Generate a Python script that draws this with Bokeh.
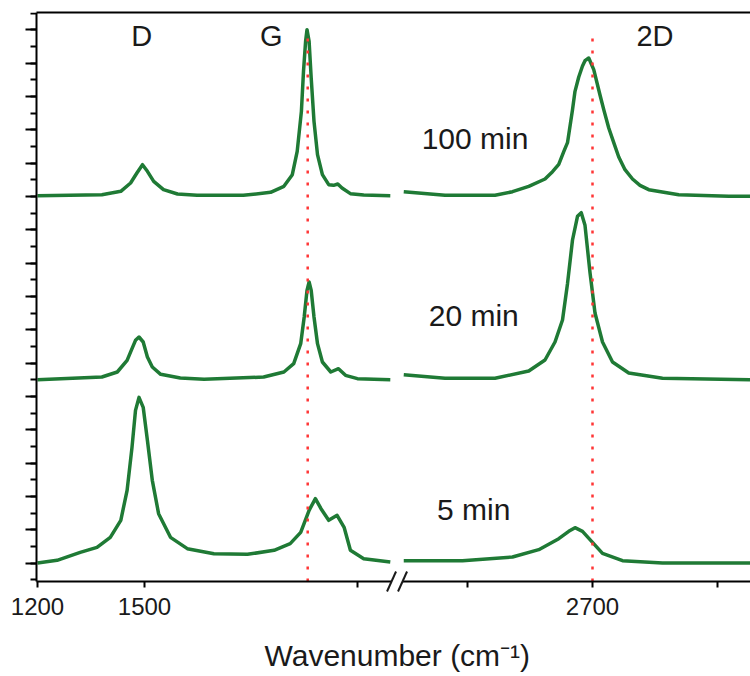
import numpy as np
from bokeh.plotting import figure
from bokeh.models import (ColumnDataSource, LinearAxis, FixedTicker, SingleIntervalTicker, Range1d,
                          CustomJSTickFormatter, Title)
from bokeh.core.properties import value
from bokeh.embed import file_html
from bokeh.resources import INLINE

# ---------------- data ----------------
# baselines (stack offsets) of the three spectra
offsets = {"5 min": 0.0, "20 min": 5.5, "100 min": 11.0}

# 100 min, D/G region
w_100_left = [1200, 1292, 1319, 1333, 1342, 1350, 1357, 1366, 1380, 1400, 1428, 1494, 1533, 1552, 1564,
              1571, 1577, 1580, 1583, 1585, 1588, 1591, 1595, 1600, 1607, 1616, 1623, 1629, 1635, 1647,
              1666, 1704]
i_100_left = [0.02, 0.05, 0.15, 0.40, 0.70, 0.95, 0.75, 0.45, 0.20, 0.07, 0.03, 0.03, 0.12, 0.30, 0.65,
              1.35, 2.55, 3.75, 4.65, 5.00, 4.65, 3.55, 2.25, 1.25, 0.65, 0.35, 0.33, 0.37, 0.25, 0.08,
              0.04, 0.02]
# 100 min, 2D region
w_100_right = [2549, 2582, 2622, 2636, 2649, 2662, 2668, 2673, 2677, 2680, 2684, 2686, 2689, 2692, 2694,
               2697, 2701, 2706, 2709, 2713, 2717, 2721, 2726, 2732, 2738, 2745, 2769, 2809, 2826]
i_100_right = [0.14, 0.03, 0.03, 0.14, 0.30, 0.52, 0.74, 0.96, 1.34, 1.61, 2.60, 3.15, 3.58, 3.91, 4.07,
               4.15, 3.80, 3.04, 2.60, 2.05, 1.61, 1.18, 0.80, 0.52, 0.33, 0.20, 0.05, 0.00, 0.00]

# 20 min
w_20_left = [1200, 1292, 1314, 1328, 1335, 1340, 1345, 1351, 1357, 1364, 1376, 1404, 1438, 1523, 1552,
             1566, 1576, 1581, 1585, 1588, 1591, 1595, 1600, 1607, 1619, 1630, 1640, 1657, 1704]
i_20_left = [0.00, 0.08, 0.23, 0.58, 0.93, 1.18, 1.28, 1.13, 0.68, 0.38, 0.16, 0.05, 0.01, 0.08, 0.23,
             0.48, 1.08, 1.88, 2.68, 2.93, 2.68, 1.88, 1.08, 0.53, 0.23, 0.33, 0.13, 0.03, 0.00]
w_20_right = [2549, 2582, 2622, 2649, 2662, 2670, 2676, 2680, 2684, 2688, 2691, 2694, 2698, 2702, 2708,
              2716, 2729, 2756, 2826]
i_20_right = [0.15, 0.04, 0.04, 0.26, 0.59, 1.13, 1.79, 2.88, 4.19, 4.90, 5.01, 4.63, 3.21, 2.00, 1.13,
              0.53, 0.20, 0.04, 0.00]

# 5 min
w_5_left = [1200, 1228, 1261, 1285, 1304, 1319, 1328, 1335, 1340, 1345, 1351, 1357, 1364, 1373, 1390,
            1414, 1452, 1500, 1538, 1561, 1576, 1588, 1597, 1605, 1616, 1628, 1638, 1647, 1666, 1704]
i_5_left = [0.00, 0.08, 0.32, 0.47, 0.77, 1.28, 2.18, 3.47, 4.58, 4.97, 4.67, 3.68, 2.48, 1.48, 0.77,
            0.43, 0.28, 0.26, 0.38, 0.58, 0.92, 1.58, 1.93, 1.63, 1.28, 1.43, 1.07, 0.38, 0.13, 0.03]
w_5_right = [2549, 2596, 2636, 2657, 2673, 2681, 2686, 2692, 2700, 2708, 2724, 2756, 2826]
i_5_right = [0.07, 0.07, 0.18, 0.40, 0.73, 0.95, 1.06, 0.95, 0.62, 0.29, 0.07, 0.00, 0.00]

# reference lines (G and 2D positions)
ref_lines_w = [1586, 2700]
ref_lines_top = [15.9, 16.0]

# axis ticks as printed on the original
tick_w = [1200, 1353, 1657, 2600, 2700, 2800]
tick_labels = ["1200", "1500", "", "", "2700", ""]

# peak names and time labels
peak_names = ["D", "G", "2D"]
peak_w = [1349, 1534, 2750]
peak_y = [15.8, 15.8, 15.8]
time_names = ["100 min", "20 min", "5 min"]
time_w = [2606, 2605, 2605]
time_y = [12.75, 7.43, 1.60]

# ---------------- broken x-axis mapping ----------------
def to_x(w):
    w = np.asarray(w, dtype=float)
    return np.where(w < 2000, (w - 1200.0) * 0.70, 555.0 + (w - 2700.0) * 1.25)

GREEN = "#1f7a35"
FONT = "Liberation Sans"
INK = "#1a1a1a"
X_AXIS_LEFT = -1.0   # where the (unlabelled) intensity axis sits
X_FRAME_LEFT = -29.0 # frame reaches further left so the first tick label is not clipped
X_RIGHT = 713.0
Y_AXIS = -0.555      # where the wavenumber axis sits
Y_BOTTOM = -2.085    # bottom of the frame (room for tick labels and the break mark)
Y_TOP = 16.515

p = figure(width=750, height=676, output_backend="svg", toolbar_location=None,
           x_range=Range1d(X_FRAME_LEFT, X_RIGHT), y_range=Range1d(Y_BOTTOM, Y_TOP),
           min_border_left=8, min_border_right=0, min_border_top=12, min_border_bottom=44)
p.outline_line_color = None
p.grid.visible = False
p.background_fill_color = "white"

# x axis (placed inside the frame so the break mark and labels are not clipped)
xa = p.xaxis[0]
tick_x = [int(round(float(v))) for v in to_x(tick_w)]
xa.ticker = FixedTicker(ticks=tick_x, minor_ticks=[])
xa.major_label_overrides = {tx: lab for tx, lab in zip(tick_x, tick_labels)}
xa.fixed_location = Y_AXIS
xa.bounds = (X_AXIS_LEFT, X_RIGHT)
xa.axis_line_width = 2
xa.major_tick_line_width = 2
xa.major_tick_out = 6
xa.major_tick_in = 0
xa.minor_tick_line_color = None
xa.major_label_text_font = FONT
xa.major_label_text_font_size = "24px"
xa.major_label_text_color = INK
xa.major_label_standoff = 10

# y axis (no labels)
ya = p.yaxis[0]
ya.ticker = SingleIntervalTicker(interval=1, num_minor_ticks=2)
ya.formatter = CustomJSTickFormatter(code="return ''")
ya.fixed_location = X_AXIS_LEFT
ya.bounds = (Y_AXIS, Y_TOP)
ya.axis_line_width = 2
ya.major_tick_line_width = 2
ya.minor_tick_line_width = 2
ya.major_tick_out = 11
ya.major_tick_in = 0
ya.minor_tick_out = 6
ya.minor_tick_in = 0
ya.major_label_standoff = 0

# top frame line
top = LinearAxis(ticker=FixedTicker(ticks=[]), axis_line_width=2, bounds=(X_AXIS_LEFT, X_RIGHT),
                 major_tick_line_color=None, minor_tick_line_color=None, major_label_standoff=0)
p.add_layout(top, "above")

# axis title
p.add_layout(Title(text="Wavenumber (cm\u207b\u00b9)", align="left", text_font=FONT,
                   text_font_size="30px", text_font_style="normal", text_color=INK, standoff=9,
                   offset=256),
             "below")

# spectra
series = [
    ("100 min", w_100_left, i_100_left, w_100_right, i_100_right),
    ("20 min", w_20_left, i_20_left, w_20_right, i_20_right),
    ("5 min", w_5_left, i_5_left, w_5_right, i_5_right),
]
for name, wl, il, wr, ir in series:
    off = offsets[name]
    p.line(to_x(wl), np.asarray(il) + off, line_color=GREEN, line_width=3.5, line_join="round")
    p.line(to_x(wr), np.asarray(ir) + off, line_color=GREEN, line_width=3.5, line_join="round")

# red dotted reference lines
for wv, yt in zip(ref_lines_w, ref_lines_top):
    xv = float(to_x([wv])[0])
    p.line([xv, xv], [Y_AXIS, yt], line_color="#ff3535", line_width=2.5, line_dash="3 9")

# labels
src_peaks = ColumnDataSource(dict(x=to_x(peak_w), y=peak_y, t=peak_names))
p.text(x="x", y="y", text="t", source=src_peaks, text_font=value(FONT), text_font_size="29px",
       text_align="center", text_baseline="middle", text_color=INK)
src_times = ColumnDataSource(dict(x=to_x(time_w), y=time_y, t=time_names))
p.text(x="x", y="y", text="t", source=src_times, text_font=value(FONT), text_font_size="30px",
       text_align="center", text_baseline="middle", text_color=INK)

# axis break mark "//" between the two segments
brk_x = float((to_x([w_5_left[-1]])[0] + to_x([w_5_right[0]])[0]) / 2)
p.quad(left=[brk_x - 5.5], right=[brk_x + 5.5], bottom=[Y_AXIS - 0.06], top=[Y_AXIS + 0.06],
       fill_color="white", line_color=None, level="annotation")
p.segment(x0=[brk_x - 10, brk_x + 1], y0=[Y_AXIS - 0.3, Y_AXIS - 0.3],
          x1=[brk_x - 1, brk_x + 10], y1=[Y_AXIS + 0.3, Y_AXIS + 0.3],
          line_color=INK, line_width=2, level="overlay")

open("out.html", "w").write(file_html(p, INLINE))
